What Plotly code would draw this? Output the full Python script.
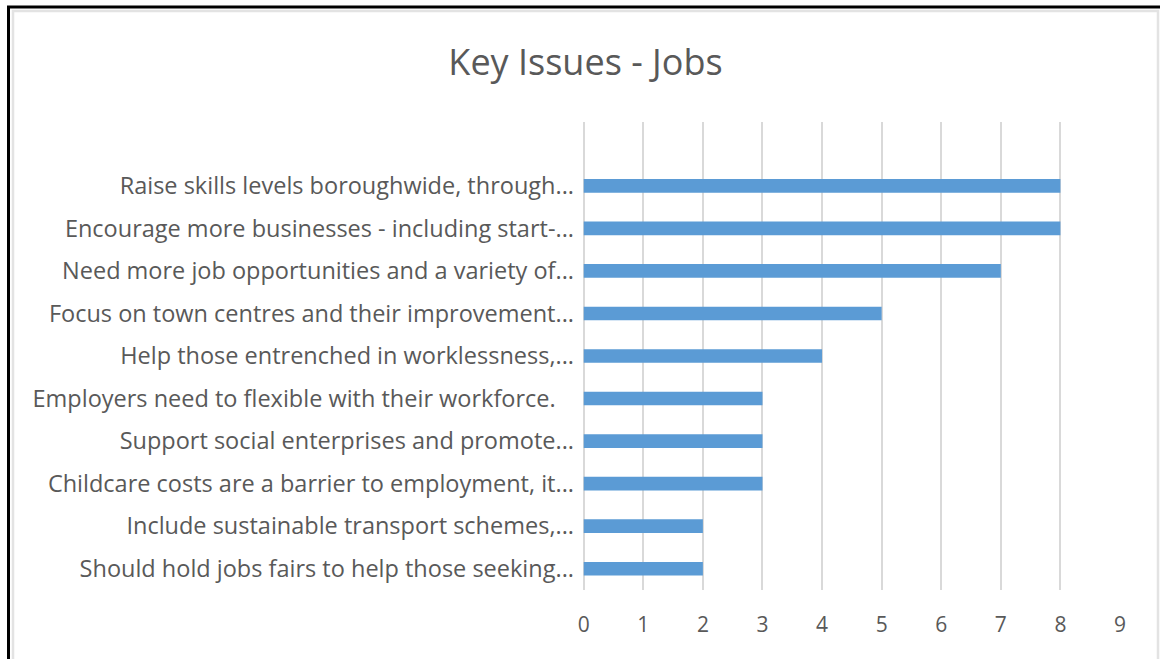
import plotly.graph_objects as go

# Survey responses: key issues raised about jobs (count of mentions)
categories = [
    "Raise skills levels boroughwide, through...",
    "Encourage more businesses - including start-...",
    "Need more job opportunities and a variety of...",
    "Focus on town centres and their improvement...",
    "Help those entrenched in worklessness,...",
    "Employers need to flexible with their workforce.\u00a0\u00a0\u00a0",
    "Support social enterprises and promote...",
    "Childcare costs are a barrier to employment, it...",
    "Include sustainable transport schemes,...",
    "Should hold jobs fairs to help those seeking...",
]
counts = [8, 8, 7, 5, 4, 3, 3, 3, 2, 2]
x_ticks = [0, 1, 2, 3, 4, 5, 6, 7, 8, 9]

W, H = 1160, 659
L, R, T, B = 583, 40, 122, 69
PW, PH = W - L - R, H - T - B


def px(x):
    return (x - L) / PW


def py(y):
    return (H - B - y) / PH


FONT = "Open Sans"
GREY = "#595959"
GRID = "#D9D9D9"

fig = go.Figure(
    go.Bar(
        y=categories,
        x=counts,
        orientation="h",
        marker=dict(color="#5B9BD5", line=dict(width=0)),
        width=0.32,
    )
)

fig.update_layout(
    width=W,
    height=H,
    margin=dict(l=L, r=R, t=T, b=B, autoexpand=False),
    paper_bgcolor="white",
    plot_bgcolor="white",
    showlegend=False,
    title=dict(
        text="Key Issues - Jobs",
        x=585.5 / W,
        xanchor="center",
        xref="container",
        y=1 - 62 / H,
        yanchor="middle",
        font=dict(family=FONT, size=36, color=GREY),
    ),
    xaxis=dict(
        range=[-0.012, 9],
        tickvals=x_ticks,
        showgrid=True,
        gridcolor=GRID,
        gridwidth=1.5,
        zeroline=True,
        zerolinecolor=GRID,
        zerolinewidth=1.5,
        showline=False,
        ticks="",
        ticklabelstandoff=20,
        tickfont=dict(family=FONT, size=21, color=GREY),
    ),
    yaxis=dict(
        categoryorder="array",
        categoryarray=categories[::-1],
        range=[-0.5, 10.5],
        showgrid=False,
        zeroline=False,
        showline=False,
        ticks="",
        ticklabelstandoff=8,
        tickfont=dict(family=FONT, size=23.5, color=GREY),
    ),
    shapes=[
        # light inner frame
        dict(type="rect", xref="paper", yref="paper",
             x0=px(13), x1=px(1158), y0=py(H + 10), y1=py(11),
             line=dict(color="#E3E3E3", width=2.5), layer="below"),
        # dark outer frame (top and left edges)
        dict(type="line", xref="paper", yref="paper",
             x0=px(7), x1=px(W + 5), y0=py(7), y1=py(7),
             line=dict(color="black", width=3)),
        dict(type="line", xref="paper", yref="paper",
             x0=px(8.5), x1=px(8.5), y0=py(6), y1=py(H + 5),
             line=dict(color="black", width=3)),
    ],
)

fig.write_html("out.html")
